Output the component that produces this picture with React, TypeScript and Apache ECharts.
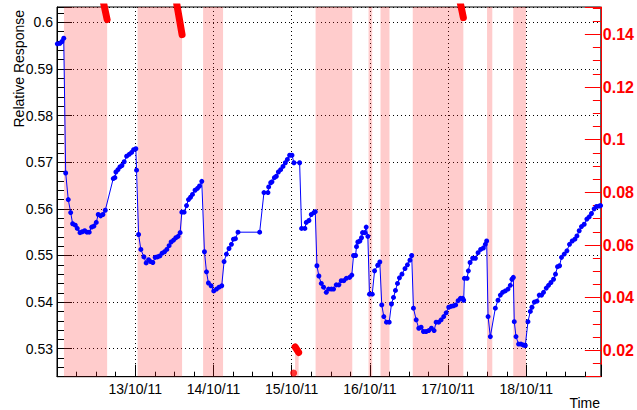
import React, { useEffect, useRef } from 'react';
import * as echarts from 'echarts';

// Time is measured in days since 12/10/11 00:00.
const dayLabels = ['13/10/11', '14/10/11', '15/10/11', '16/10/11', '17/10/11', '18/10/11'];

// Relative response (left axis)
const responseDay = [
  0.004, 0.038, 0.064, 0.086, 0.111, 0.144, 0.175, 0.2, 0.234, 0.259, 0.294, 0.323, 0.354, 0.383, 0.412,
  0.443, 0.472, 0.502, 0.527, 0.558, 0.587, 0.617, 0.719, 0.74, 0.753, 0.779, 0.804, 0.83, 0.859, 0.89,
  0.923, 0.954, 0.979, 1.008, 1.017, 1.043, 1.072, 1.111, 1.14, 1.171, 1.196, 1.225, 1.255, 1.285, 1.315,
  1.344, 1.375, 1.404, 1.433, 1.459, 1.49, 1.519, 1.548, 1.574, 1.596, 1.625, 1.656, 1.681, 1.707, 1.732,
  1.765, 1.796, 1.822, 1.851, 1.885, 1.911, 1.936, 1.97, 2.004, 2.039, 2.072, 2.106, 2.136, 2.166, 2.199,
  2.23, 2.256, 2.281, 2.314, 2.591, 2.646, 2.697, 2.706, 2.732, 2.748, 2.779, 2.804, 2.83, 2.859, 2.889,
  2.919, 2.945, 2.974, 3.004, 3.029, 3.102, 3.127, 3.169, 3.187, 3.221, 3.251, 3.284, 3.302, 3.323, 3.348,
  3.379, 3.408, 3.443, 3.472, 3.507, 3.536, 3.57, 3.604, 3.634, 3.667, 3.698, 3.74, 3.769, 3.791, 3.817,
  3.829, 3.846, 3.872, 3.893, 3.906, 3.935, 3.953, 3.974, 3.995, 4.03, 4.06, 4.101, 4.127, 4.152, 4.178,
  4.212, 4.247, 4.276, 4.302, 4.327, 4.353, 4.378, 4.41, 4.449, 4.48, 4.512, 4.535, 4.557, 4.592, 4.625,
  4.655, 4.685, 4.719, 4.752, 4.787, 4.821, 4.847, 4.88, 4.911, 4.944, 4.975, 5.008, 5.038, 5.068, 5.097,
  5.128, 5.157, 5.186, 5.199, 5.208, 5.243, 5.259, 5.281, 5.314, 5.349, 5.383, 5.416, 5.451, 5.476, 5.493,
  5.511, 5.54, 5.604, 5.638, 5.668, 5.697, 5.731, 5.766, 5.795, 5.817, 5.834, 5.846, 5.868, 5.901, 5.932,
  5.961, 5.987, 6.021, 6.051, 6.072, 6.102, 6.136, 6.165, 6.195, 6.22, 6.255, 6.284, 6.315, 6.348, 6.373,
  6.399, 6.425, 6.45, 6.485, 6.519, 6.552, 6.587, 6.621, 6.647, 6.676, 6.705, 6.74, 6.774, 6.804, 6.833,
  6.867, 6.897, 6.931, 6.95,
];
const responseValue = [
  0.5954, 0.5955, 0.5959, 0.5966, 0.5677, 0.562, 0.5592, 0.5568, 0.5565, 0.5558, 0.5549, 0.5551, 0.5553, 0.555, 0.555,
  0.5561, 0.5563, 0.5571, 0.5588, 0.5585, 0.5588, 0.5597, 0.5665, 0.5667, 0.5679, 0.5684, 0.569, 0.5693, 0.5701, 0.5713,
  0.5717, 0.5721, 0.5727, 0.5729, 0.5683, 0.5545, 0.5513, 0.5497, 0.5484, 0.5491, 0.5487, 0.5485, 0.5496, 0.5497, 0.5499,
  0.5505, 0.5508, 0.5513, 0.5521, 0.5529, 0.5533, 0.5538, 0.5541, 0.5549, 0.5593, 0.5593, 0.5607, 0.562, 0.5625, 0.5631,
  0.564, 0.5644, 0.5649, 0.5659, 0.5508, 0.5465, 0.5441, 0.5435, 0.5424, 0.5428, 0.5432, 0.5435, 0.5487, 0.5503, 0.5515,
  0.5524, 0.5535, 0.5536, 0.555, 0.555, 0.5635, 0.5635, 0.5647, 0.5656, 0.5658, 0.5667, 0.567, 0.5679, 0.5684, 0.5691,
  0.5699, 0.5706, 0.5715, 0.5715, 0.5699, 0.5699, 0.5558, 0.5558, 0.5571, 0.5575, 0.5588, 0.5592, 0.5594, 0.5478, 0.5456,
  0.544, 0.5432, 0.5421, 0.5428, 0.5428, 0.5428, 0.5437, 0.5437, 0.5446, 0.5446, 0.5451, 0.5453, 0.5458, 0.55, 0.55,
  0.5519, 0.5529, 0.5531, 0.5538, 0.5549, 0.5549, 0.5561, 0.5541, 0.5417, 0.5417, 0.5467, 0.5479, 0.5486, 0.5394, 0.5369,
  0.5357, 0.5357, 0.5396, 0.541, 0.5425, 0.544, 0.5452, 0.546, 0.5472, 0.548, 0.549, 0.55, 0.5387, 0.5362, 0.5344,
  0.5346, 0.5337, 0.5337, 0.5339, 0.5344, 0.5339, 0.5357, 0.5357, 0.5362, 0.5369, 0.5377, 0.5389, 0.5391, 0.5392, 0.5394,
  0.5403, 0.5408, 0.5408, 0.5404, 0.5451, 0.5451, 0.5467, 0.5485, 0.5494, 0.5494, 0.5506, 0.5513, 0.5516, 0.5524, 0.5531,
  0.5369, 0.5326, 0.5387, 0.5404, 0.5415, 0.5421, 0.5424, 0.5428, 0.5436, 0.5449, 0.5453, 0.5358, 0.5326, 0.531, 0.531,
  0.5308, 0.5307, 0.5358, 0.538, 0.5389, 0.54, 0.5402, 0.5415, 0.5415, 0.5421, 0.543, 0.5436, 0.5442, 0.5449, 0.546,
  0.5476, 0.5478, 0.5496, 0.5503, 0.551, 0.5524, 0.5531, 0.5535, 0.5542, 0.5553, 0.5562, 0.5567, 0.5578, 0.5583, 0.559,
  0.56, 0.5605, 0.5606, 0.5607,
];

// Rate during the exposure periods (right axis); null separates periods,
// 0.25 marks readings far above the displayed range.
const rateDay = [
  0.089, 0.594, 0.641, null,
  1.03, 1.532, 1.599, null,
  1.868, 2.123, null,
  3.044, 3.089, null,
  3.306, 3.775, null,
  3.983, 4.03, null,
  4.136, 4.251, null,
  4.548, 5.157, 5.195, null,
  5.498, 5.565, null,
  5.833, 5.996,
];
const rateValue = [
  0.25, 0.1521, 0.1456, null,
  0.25, 0.1514, 0.1399, null,
  0.25, 0.25, null,
  0.0213, 0.0192, null,
  0.25, 0.25, null,
  0.25, 0.25, null,
  0.25, 0.25, null,
  0.25, 0.1518, 0.1464, null,
  0.25, 0.25, null,
  0.25, 0.25,
];
const isolatedRateDay = [3.025];
const isolatedRateValue = [0.0114];

const FONT = '"Liberation Sans", Arial, Helvetica, sans-serif';
const GRID_DOTS = { color: '#000', width: 1, type: [1, 3] as number[] };

const isMultiple = (v: number, step: number) => {
  const q = v / step;
  return Math.abs(q - Math.round(q)) < 1e-6;
};
const fmtValue = (v: number) => String(Math.round(v * 100) / 100);

export default function App() {
  const ref = useRef<HTMLDivElement>(null);

  useEffect(() => {
    if (!ref.current) return;
    const chart = echarts.init(ref.current, null, { renderer: 'svg' });

    const responseData = responseDay.map((d, i) => [d, responseValue[i]]);
    const rateData = rateDay.map((d, i) => (d === null ? [null, null] : [d, rateValue[i]]));
    const isolatedData = isolatedRateDay.map((d, i) => [d, isolatedRateValue[i]]);

    const option: any = {
      animation: false,
      backgroundColor: '#ffffff',
      textStyle: { fontFamily: FONT },
      grid: {
        left: 57,
        top: 7,
        right: 35.3,
        bottom: 33.3,
        show: true,
        borderColor: '#000',
        borderWidth: 1,
        backgroundColor: 'transparent',
      },
      xAxis: {
        type: 'value',
        min: 0,
        max: 6.953,
        interval: 1,
        axisLine: { show: true, onZero: false, lineStyle: { color: '#000', width: 1 } },
        axisTick: { show: true, inside: true, length: 12, lineStyle: { color: '#000' } },
        minorTick: { show: true, splitNumber: 4, length: 5, lineStyle: { color: '#000' } },
        axisLabel: {
          color: '#000',
          fontSize: 14,
          fontFamily: FONT,
          margin: 5,
          formatter: (v: number) => {
            const i = Math.round(v);
            return Math.abs(v - i) < 1e-6 && i >= 1 && i <= dayLabels.length ? dayLabels[i - 1] : '';
          },
        },
        splitLine: { show: true, lineStyle: GRID_DOTS },
      },
      yAxis: [
        {
          type: 'value',
          position: 'left',
          min: 0.524,
          max: 0.6033,
          interval: 0.002,
          axisLine: { show: true, onZero: false, lineStyle: { color: '#000', width: 1 } },
          axisTick: { show: true, inside: true, length: 7, lineStyle: { color: '#000' } },
          axisLabel: {
            color: '#000',
            fontSize: 14,
            fontFamily: FONT,
            margin: 4,
            formatter: (v: number) => (isMultiple(v, 0.01) ? fmtValue(v) : ''),
          },
          splitLine: { show: false },
        },
        {
          type: 'value',
          position: 'left',
          min: 0.524,
          max: 0.6033,
          splitNumber: 8,
          axisLine: { show: false },
          axisTick: { show: true, inside: true, length: 15, lineStyle: { color: '#000' } },
          axisLabel: { show: false },
          splitLine: { show: true, lineStyle: GRID_DOTS },
        },
        {
          type: 'value',
          position: 'right',
          min: 0.01,
          max: 0.1504,
          interval: 0.005,
          axisLine: { show: true, onZero: false, lineStyle: { color: '#ff0000', width: 1 } },
          axisTick: { show: true, inside: true, length: 8, lineStyle: { color: '#ff0000' } },
          axisLabel: {
            color: '#ff0000',
            fontSize: 16,
            fontWeight: 'bold',
            fontFamily: FONT,
            margin: 2,
            formatter: (v: number) => (isMultiple(v, 0.02) ? fmtValue(v) : ''),
          },
          splitLine: { show: false },
        },
        {
          type: 'value',
          position: 'right',
          min: 0.01,
          max: 0.1504,
          splitNumber: 7,
          axisLine: { show: false },
          axisTick: { show: true, inside: true, length: 16, lineStyle: { color: '#ff0000' } },
          axisLabel: { show: false },
          splitLine: { show: false },
        },
      ],
      series: [
        {
          name: 'rate-fill',
          type: 'line',
          yAxisIndex: 2,
          data: rateData,
          showSymbol: false,
          connectNulls: false,
          silent: true,
          lineStyle: { width: 0, opacity: 0 },
          areaStyle: { color: 'rgba(255, 40, 40, 0.34)', origin: 'start' },
          z: 1,
        },
        {
          name: 'response',
          type: 'line',
          yAxisIndex: 0,
          data: responseData,
          symbol: 'circle',
          symbolSize: 5,
          showSymbol: true,
          lineStyle: { color: '#0000ff', width: 1 },
          itemStyle: { color: '#0000ff' },
          z: 3,
        },
        {
          name: 'rate',
          type: 'line',
          yAxisIndex: 2,
          data: rateData,
          showSymbol: false,
          connectNulls: false,
          lineStyle: { color: '#ff0000', width: 7, cap: 'round', join: 'round' },
          z: 4,
        },
        {
          name: 'rate-point',
          type: 'scatter',
          yAxisIndex: 2,
          data: isolatedData,
          symbol: 'circle',
          symbolSize: 7,
          itemStyle: { color: '#ff0000' },
          z: 4,
        },
      ],
      graphic: [
        {
          type: 'text',
          x: 18.5,
          y: 10,
          rotation: Math.PI / 2,
          style: {
            text: 'Relative Response',
            fill: '#000',
            fontSize: 14,
            fontFamily: FONT,
            align: 'right',
            verticalAlign: 'middle',
            textAlign: 'right',
            textVerticalAlign: 'middle',
          },
        },
        {
          type: 'text',
          x: 600,
          y: 402.5,
          style: {
            text: 'Time',
            fill: '#000',
            fontSize: 14,
            fontFamily: FONT,
            align: 'right',
            verticalAlign: 'middle',
            textAlign: 'right',
            textVerticalAlign: 'middle',
          },
        },
      ],
    };

    chart.setOption(option);
    return () => chart.dispose();
  }, []);

  return (
    <div
      ref={ref}
      style={{ position: 'fixed', left: 0, top: 0, width: 637, height: 410, background: '#fff' }}
    />
  );
}
